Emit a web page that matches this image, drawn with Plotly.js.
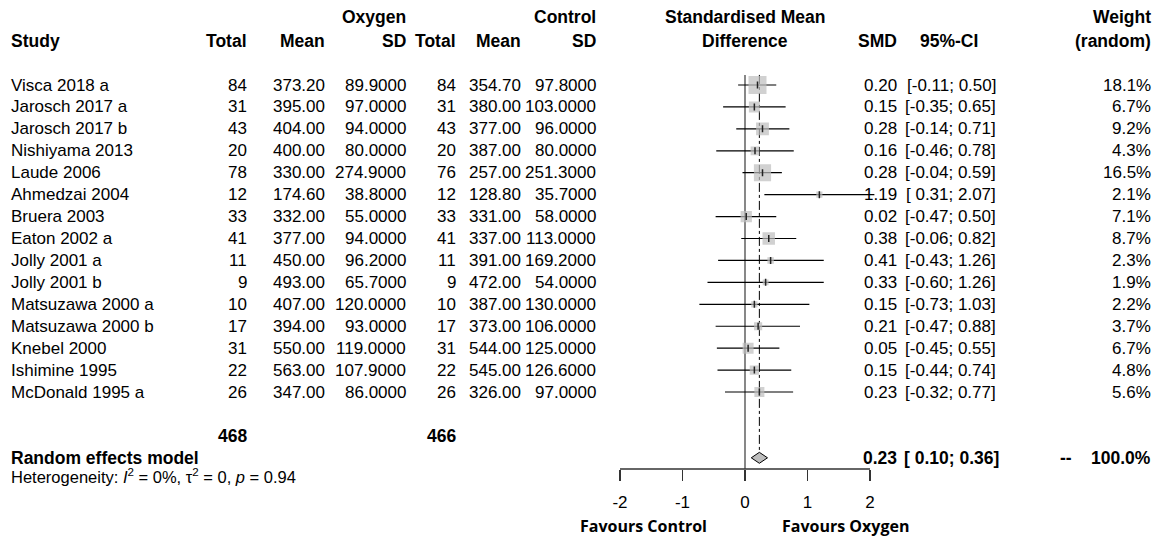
<!DOCTYPE html>
<html><head><meta charset="utf-8">
<script src="https://cdn.plot.ly/plotly-3.0.1.min.js"></script>
<style>html,body{margin:0;padding:0;background:#fff}</style>
</head><body><div id="chart" style="width:1162px;height:537px"></div>
<script>
// ---- data ----
const studies = ["Visca 2018 a","Jarosch 2017 a","Jarosch 2017 b","Nishiyama 2013","Laude 2006","Ahmedzai 2004","Bruera 2003","Eaton 2002 a","Jolly 2001 a","Jolly 2001 b","Matsuzawa 2000 a","Matsuzawa 2000 b","Knebel 2000","Ishimine 1995","McDonald 1995 a"];
const oxyTotal = [84,31,43,20,78,12,33,41,11,9,10,17,31,22,26];
const oxyMean = [373.20,395.00,404.00,400.00,330.00,174.60,332.00,377.00,450.00,493.00,407.00,394.00,550.00,563.00,347.00];
const oxySD = [89.9,97.0,94.0,80.0,274.9,38.8,55.0,94.0,96.2,65.7,120.0,93.0,119.0,107.9,86.0];
const ctlTotal = [84,31,43,20,76,12,33,41,11,9,10,17,31,22,26];
const ctlMean = [354.70,380.00,377.00,387.00,257.00,128.80,331.00,337.00,391.00,472.00,387.00,373.00,544.00,545.00,326.00];
const ctlSD = [97.8,103.0,96.0,80.0,251.3,35.7,58.0,113.0,169.2,54.0,130.0,106.0,125.0,126.6,97.0];
const smd = [0.20,0.15,0.28,0.16,0.28,1.19,0.02,0.38,0.41,0.33,0.15,0.21,0.05,0.15,0.23];
const ciLo = [-0.11,-0.35,-0.14,-0.46,-0.04,0.31,-0.47,-0.06,-0.43,-0.60,-0.73,-0.47,-0.45,-0.44,-0.32];
const ciHi = [0.50,0.65,0.71,0.78,0.59,2.07,0.50,0.82,1.26,1.26,1.03,0.88,0.55,0.74,0.77];
const weight = [18.1,6.7,9.2,4.3,16.5,2.1,7.1,8.7,2.3,1.9,2.2,3.7,6.7,4.8,5.6];
const totalOxy = 468, totalCtl = 466;
const pooled = {est:0.23, lo:0.10, hi:0.36, weight:100.0};
const tickVals = [-2,-1,0,1,2];
const tickLabels = ["-2","-1","0","1","2"];

// ---- layout helpers ----
const W = 1162, H = 537;
const X = p => p / W;
const FONT = "Liberation Sans, Arial, sans-serif";
const fs = 17, fsHead = 17.5;
const rowY = r => -r;

const f2 = v => v.toFixed(2);
const fCI = (l,h) => "[" + (l >= 0 ? " " : "") + f2(l) + "; " + f2(h) + "]";

const ann = [];
function txt(text, px, r, anchor, opts={}) {
  ann.push(Object.assign({
    text: text, x: X(px), xref: "paper", y: rowY(r), yref: "y",
    xanchor: anchor, yanchor: "middle", showarrow: false, borderpad: 0,
    font: {family: FONT, size: fs, color: "#000"}
  }, opts));
}
const headFont = {font: {family: FONT, size: fsHead, color: "#000"}};
const B = s => "<b>" + s + "</b>";
const hd = (s, px, r, a) => txt(B(s), px, r, a, headFont);

// column right edges (px)
const cTotO = 248, cMeanO = 326, cSDO = 407, cTotC = 457, cMeanC = 522, cSDC = 597;
const cSMD = 898, cCI = 997, cW = 1152, xStudy = 10;

// headers
const h1 = -2.1, h2 = -1.0;
hd("Study", xStudy, h2, "left");
hd("Total", cTotO, h2, "right");
hd("Mean", cMeanO, h2, "right");
hd("Oxygen", cSDO, h1, "right");
hd("SD", cSDO, h2, "right");
hd("Total", cTotC, h2, "right");
hd("Mean", cMeanC, h2, "right");
hd("Control", cSDC, h1, "right");
hd("SD", cSDC, h2, "right");
hd("Standardised Mean", 745, h1, "center");
hd("Difference", 745, h2, "center");
hd("SMD", cSMD, h2, "right");
hd("95%-CI", 949, h2, "center");
hd("Weight", cW, h1, "right");
hd("(random)", cW, h2, "right");

studies.forEach((s, i) => {
  const r = i + 1;
  txt(s, xStudy, r, "left");
  txt(String(oxyTotal[i]), cTotO, r, "right");
  txt(oxyMean[i].toFixed(2), cMeanO, r, "right");
  txt(oxySD[i].toFixed(4), cSDO, r, "right");
  txt(String(ctlTotal[i]), cTotC, r, "right");
  txt(ctlMean[i].toFixed(2), cMeanC, r, "right");
  txt(ctlSD[i].toFixed(4), cSDC, r, "right");
  txt(f2(smd[i]), cSMD, r, "right");
  txt(fCI(ciLo[i], ciHi[i]), cCI, r, "right");
  txt(weight[i].toFixed(1) + "%", cW, r, "right");
});

const rTot = 17, rRE = 18, rHet = 18.82;
hd(String(totalOxy), cTotO, rTot, "right");
hd(String(totalCtl), cTotC, rTot, "right");
hd("Random effects model", xStudy, rRE, "left");
hd(f2(pooled.est), cSMD, rRE, "right");
hd(fCI(pooled.lo, pooled.hi), cCI + 3, rRE, "right");
hd("--", 1066, rRE, "center");
hd(pooled.weight.toFixed(1) + "%", cW, rRE, "right");
txt("Heterogeneity: <i>I</i><sup>2</sup> = 0%, τ<sup>2</sup> = 0, <i>p</i> = 0.94", xStudy, rHet, "left", {font:{family:FONT,size:16.5,color:"#000"}});

const rFav = 21.11;
const favFont = {font:{family:"Open Sans, sans-serif", size:16, color:"#000"}};
txt(B("Favours Control"), 708, rFav, "right", favFont);
txt(B("Favours Oxygen"), 781, rFav, "left", favFont);

// ---- traces ----
const ciX = [], ciY = [];
studies.forEach((s, i) => { ciX.push(ciLo[i], ciHi[i], null); ciY.push(rowY(i+1), rowY(i+1), null); });
const maxW = Math.max(...weight);
const sqSize = weight.map(w => 18 * Math.sqrt(w / maxW));
const rowsY = studies.map((s, i) => rowY(i + 1));

const rTop = 0.54, rAxis = 18.51, rDashEnd = 17.74;
const dh = 0.25;

const traces = [
  {x:[0,0], y:[rowY(rTop), rowY(rAxis)], mode:"lines", line:{color:"#6a6a6a", width:1.6}, hoverinfo:"skip"},
  {x:[pooled.est,pooled.est], y:[rowY(rTop), rowY(rDashEnd)], mode:"lines", line:{color:"#000", width:1, dash:"dashdot"}, hoverinfo:"skip"},
  {x:ciX, y:ciY, mode:"lines", line:{color:"#000", width:1.2}, hoverinfo:"skip", connectgaps:false},
  {x:smd, y:rowsY, mode:"markers", marker:{symbol:"square", size:sqSize, color:"#BEBEBE", line:{width:0}}, hoverinfo:"skip"},
  {x:smd, y:rowsY, mode:"markers", marker:{symbol:"line-ns", size:5, line:{color:"#222", width:1.5}}, hoverinfo:"skip"},
  {x:[pooled.lo, pooled.est, pooled.hi, pooled.est, pooled.lo], y:[rowY(rRE), rowY(rRE)+dh, rowY(rRE), rowY(rRE)-dh, rowY(rRE)], mode:"lines", fill:"toself", fillcolor:"#BEBEBE", line:{color:"#000", width:1}, hoverinfo:"skip"},
  {x:[tickVals[0], tickVals[tickVals.length-1]], y:[rowY(rAxis), rowY(rAxis)], mode:"lines", line:{color:"#333", width:1.3}, hoverinfo:"skip"}
];

const yTop = 2.876, yBot = -21.611;
const layout = {
  width: W, height: H,
  margin: {l:0, r:0, t:0, b:0},
  paper_bgcolor: "#fff", plot_bgcolor: "rgba(0,0,0,0)",
  showlegend: false,
  xaxis: {
    range: [-2.2, 2.25], domain: [607.5/W, 885.625/W],
    anchor: "free", position: (H - 469) / H,
    showline: false, showgrid: false, zeroline: false,
    ticks: "outside", ticklen: 11, tickwidth: 1.3, tickcolor: "#333",
    ticklabelstandoff: 7,
    tickvals: tickVals, ticktext: tickLabels,
    tickfont: {family: FONT, size: 17, color: "#000"},
    fixedrange: true
  },
  yaxis: {range: [yBot, yTop], domain: [0,1], visible: false, fixedrange: true},
  annotations: ann
};
Plotly.newPlot("chart", traces, layout, {staticPlot: true, displayModeBar: false});
</script></body></html>
